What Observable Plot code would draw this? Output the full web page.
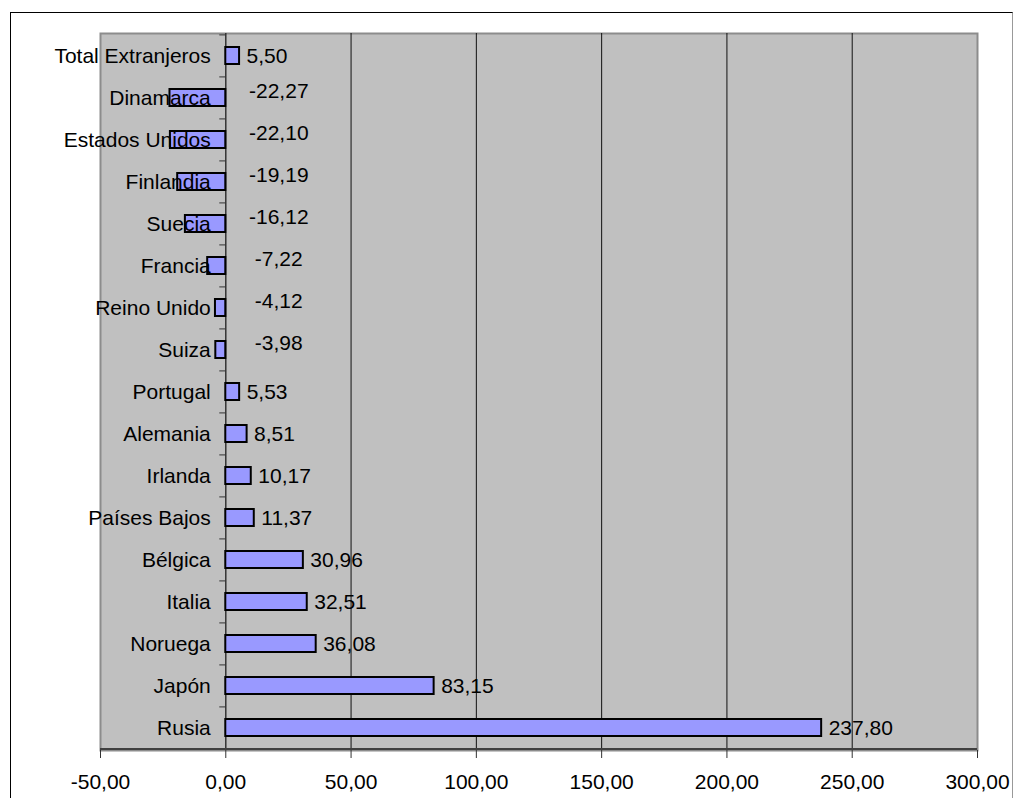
<!DOCTYPE html>
<html>
<head>
<meta charset="utf-8">
<script src="https://cdn.jsdelivr.net/npm/d3@7"></script>
<script src="https://cdn.jsdelivr.net/npm/@observablehq/plot@0.6"></script>
<style>
  html, body { margin: 0; padding: 0; background: #fff; }
  #wrap { position: relative; width: 1013px; height: 798px; overflow: hidden; }
  #outer { position: absolute; left: 10px; top: 12px; width: 1001px; height: 800px;
           border-left: 1px solid #000; border-top: 1px solid #000; border-right: 1px solid #999;
           pointer-events: none; }
</style>
</head>
<body>
<div id="wrap"><div id="chart"></div><div id="outer"></div></div>
<script>
const countries = ["Total Extranjeros","Dinamarca","Estados Unidos","Finlandia","Suecia","Francia","Reino Unido","Suiza","Portugal","Alemania","Irlanda","Países Bajos","Bélgica","Italia","Noruega","Japón","Rusia"];
const values = [5.50,-22.27,-22.10,-19.19,-16.12,-7.22,-4.12,-3.98,5.53,8.51,10.17,11.37,30.96,32.51,36.08,83.15,237.80];
const xTicks = [-50,0,50,100,150,200,250,300];
const gridTicks = [50,100,150,200,250];

const data = countries.map((name, i) => ({name, value: values[i]}));
const fmt = v => d3.format(".2f")(v).replace(".", ",").replace("\u2212", "-");

const W = 1013, H = 798, mT = 33, mB = 48, mL = 100, mR = 36;
const step = (H - mT - mB) / countries.length;
const font = "Liberation Sans, Arial, sans-serif";

const plot = Plot.plot({
  width: W, height: H,
  marginTop: mT, marginBottom: mB, marginLeft: mL, marginRight: mR,
  style: {fontFamily: font, fontSize: "21px", background: "transparent", color: "#000"},
  x: {domain: [-50, 300], axis: null, label: null},
  y: {domain: countries, paddingInner: 0.6, paddingOuter: 0.3, axis: null, label: null},
  marks: [
    Plot.frame({fill: "#c0c0c0", stroke: "#8c8c8c", strokeWidth: 2}),
    Plot.ruleX(gridTicks, {stroke: "#111", strokeWidth: 1}),
    Plot.ruleX([0], {stroke: "#333", strokeWidth: 1.5}),
    Plot.ruleY(countries, {y: d => d, x1: -2.4, x2: 0, dy: -step / 2, stroke: "#333"}),
    Plot.ruleY([countries[countries.length - 1]], {y: d => d, dy: step / 2, stroke: "#404040", strokeWidth: 2}),
    Plot.barX(data, {x: "value", y: "name", fill: "#9999ff", stroke: "#000", strokeWidth: 2}),
    Plot.text(data, {x: 0, y: "name", text: "name", textAnchor: "end", dx: -15, fontSize: 21, fill: "#000"}),
    Plot.text(data.filter(d => d.value >= 0), {x: "value", y: "name", text: d => fmt(d.value), textAnchor: "start", dx: 7, fontSize: 21, fill: "#000"}),
    Plot.text(data.filter(d => d.value < 0), {x: 0, y: "name", text: d => fmt(d.value), textAnchor: "middle", dx: 53, dy: -7, fontSize: 21, fill: "#000"}),
    Plot.axisX(xTicks, {anchor: "bottom", label: null, tickSize: 8, tickPadding: 16, tickFormat: fmt, fontSize: 21, stroke: "#333", fill: "#000"})
  ]
});
document.getElementById("chart").appendChild(plot);
</script>
</body>
</html>
